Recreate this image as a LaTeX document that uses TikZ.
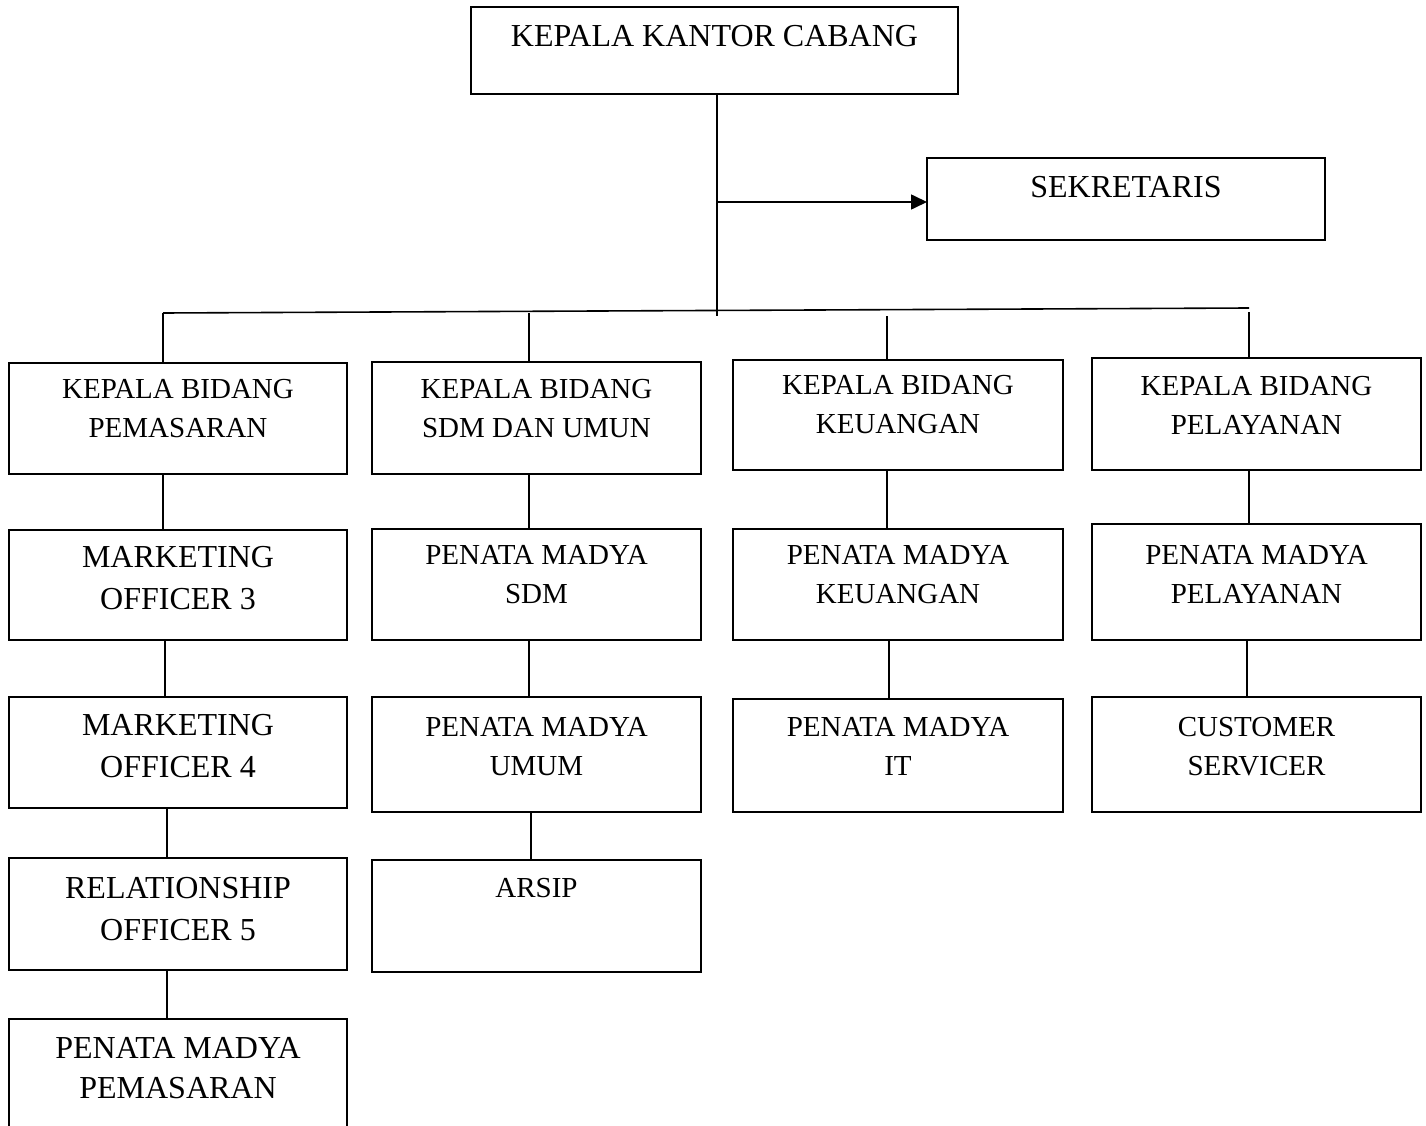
\documentclass[tikz,border=0pt]{standalone}
\usepackage{fontspec}
\setmainfont{Liberation Serif}
\usetikzlibrary{arrows.meta}
\newcommand\obox[5]{%
  \node[box, minimum width={(#4-#2)*1pt}, minimum height={(#5-#3)*1pt}, anchor=north west] (#1) at (#2,#3) {};}
\tikzset{
  box/.style={draw, line width=1.6pt, inner sep=0pt, outer sep=0pt, shape=rectangle},
  conn/.style={draw, line width=1.6pt},
  bigtxt/.style={align=center, inner sep=0pt, font=\fontsize{32}{42}\selectfont},
  smalltxt/.style={align=center, inner sep=0pt, font=\fontsize{29}{39}\selectfont},
}
\begin{document}
\begin{tikzpicture}[x=1pt, y=-1pt]
\path[use as bounding box, clip] (0,0) rectangle (1426,1126);
\fill[white] (0,0) rectangle (1426,1126);
% top
\obox{kc}{471}{7}{958}{94}
\node[bigtxt] (kct) at (714.5,36) {KEPALA KANTOR CABANG};
\obox{sek}{927}{158}{1325}{240}
\node[bigtxt] (sekt) at (1126,187) {SEKRETARIS};
% column 1
\obox{k1}{9}{363}{347}{474}
\node[smalltxt] (k1t) at (178,408.5) {KEPALA BIDANG\\PEMASARAN};
\obox{m3}{9}{530}{347}{640}
\node[bigtxt] (m3t) at (178,578) {MARKETING\\OFFICER 3};
\obox{m4}{9}{697}{347}{808}
\node[bigtxt] (m4t) at (178,746.5) {MARKETING\\OFFICER 4};
\obox{r5}{9}{858}{347}{970}
\node[bigtxt] (r5t) at (178,909) {RELATIONSHIP\\OFFICER 5};
\obox{p1}{9}{1019}{347}{1140}
\node[bigtxt, font=\fontsize{32}{40}\selectfont] (p1t) at (178,1068) {PENATA MADYA\\PEMASARAN};
% column 2
\obox{k2}{372}{362}{701}{474}
\node[smalltxt] (k2t) at (536.5,408.5) {KEPALA BIDANG\\SDM DAN UMUN};
\obox{s2}{372}{529}{701}{640}
\node[smalltxt] (s2t) at (536.5,574.5) {PENATA MADYA\\SDM};
\obox{u2}{372}{697}{701}{812}
\node[smalltxt] (u2t) at (536.5,746.5) {PENATA MADYA\\UMUM};
\obox{a2}{372}{860}{701}{972}
\node[smalltxt] (a2t) at (536.5,888) {ARSIP};
% column 3
\obox{k3}{733}{360}{1063}{470}
\node[smalltxt] (k3t) at (898,405) {KEPALA BIDANG\\KEUANGAN};
\obox{e3}{733}{529}{1063}{640}
\node[smalltxt] (e3t) at (898,574.5) {PENATA MADYA\\KEUANGAN};
\obox{i3}{733}{699}{1063}{812}
\node[smalltxt] (i3t) at (898,746.5) {PENATA MADYA\\IT};
% column 4
\obox{k4}{1092}{358}{1421}{470}
\node[smalltxt] (k4t) at (1256.5,405) {KEPALA BIDANG\\PELAYANAN};
\obox{l4}{1092}{524}{1421}{640}
\node[smalltxt] (l4t) at (1256.5,574.5) {PENATA MADYA\\PELAYANAN};
\obox{c4}{1092}{697}{1421}{812}
\node[smalltxt] (c4t) at (1256.5,746.5) {CUSTOMER\\SERVICER};
% top connectors
\coordinate (j) at (717,316);
\coordinate (arr) at (717,202);
\coordinate (hl) at (163,313);
\coordinate (hr) at (1249,308);
\coordinate (d2) at (529,313);
\coordinate (d3) at (887,316);
\coordinate (d4) at (1249,312);
\draw[conn] ([xshift=2.5pt]kc.south) -- (j);
\draw[conn, -{Triangle[length=16pt, width=15pt]}] (arr) -- (arr -| sek.west);
\draw[conn] (hl) -- (hr);
\draw[conn] (hl) -- ([xshift=-15pt]k1.north);
\draw[conn] (d2) -- ([xshift=-7.5pt]k2.north);
\draw[conn] (d3) -- ([xshift=-11pt]k3.north);
\draw[conn] (d4) -- ([xshift=-7.5pt]k4.north);
% column connectors
\draw[conn] ([xshift=-15pt]k1.south) -- ([xshift=-15pt]m3.north);
\draw[conn] ([xshift=-13pt]m3.south) -- ([xshift=-13pt]m4.north);
\draw[conn] ([xshift=-11pt]m4.south) -- ([xshift=-11pt]r5.north);
\draw[conn] ([xshift=-11pt]r5.south) -- ([xshift=-11pt]p1.north);
\draw[conn] ([xshift=-7.5pt]k2.south) -- ([xshift=-7.5pt]s2.north);
\draw[conn] ([xshift=-7.5pt]s2.south) -- ([xshift=-7.5pt]u2.north);
\draw[conn] ([xshift=-5.5pt]u2.south) -- ([xshift=-5.5pt]a2.north);
\draw[conn] ([xshift=-11pt]k3.south) -- ([xshift=-11pt]e3.north);
\draw[conn] ([xshift=-9pt]e3.south) -- ([xshift=-9pt]i3.north);
\draw[conn] ([xshift=-7.5pt]k4.south) -- ([xshift=-7.5pt]l4.north);
\draw[conn] ([xshift=-9.5pt]l4.south) -- ([xshift=-9.5pt]c4.north);
\end{tikzpicture}
\end{document}
